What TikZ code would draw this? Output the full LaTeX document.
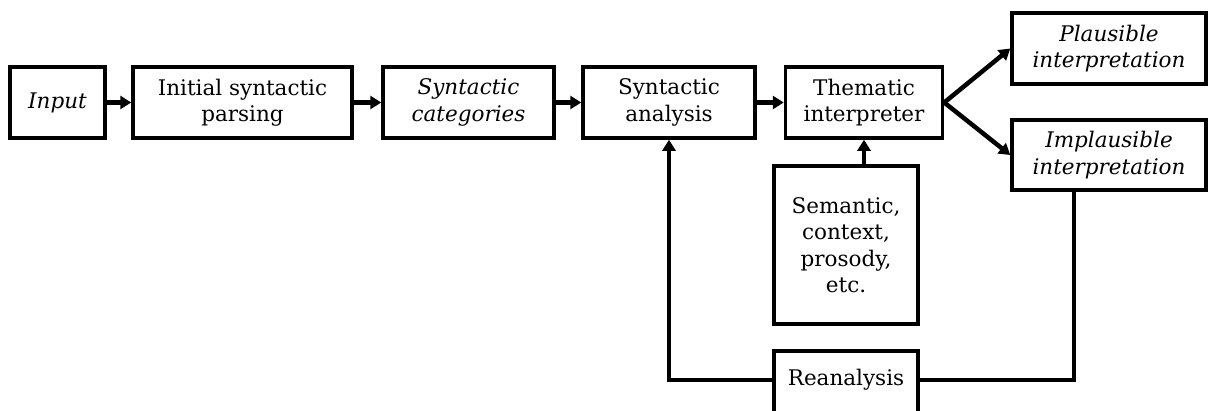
\documentclass[tikz,border=0pt]{standalone}
\usepackage{fontspec}
\setmainfont{DejaVu Serif}
\usetikzlibrary{arrows.meta}
\begin{document}
\begin{tikzpicture}[x=1pt,y=-1pt,
  txt/.style={font=\fontsize{21.5}{26.5}\selectfont},
  box/.style={draw,line width=3.5pt,align=center,inner sep=0pt,txt},
  conn/.style={line width=4.5pt,-{Triangle[length=11pt,width=13pt]}},
  plain/.style={line width=4.5pt}]
\useasboundingbox (0,0) rectangle (1208,410);
\node[box,minimum width=95pt,minimum height=71pt] (in) at (57.5,102.5) {\itshape Input};
\node[box,minimum width=219pt,minimum height=71pt] (isp) at (242.5,102.5) {Initial syntactic\\parsing};
\node[box,minimum width=171pt,minimum height=71pt] (sc) at (468.5,102.5) {\itshape Syntactic\\\itshape categories};
\node[box,minimum width=172pt,minimum height=71pt] (sa) at (669,102.5) {Syntactic\\analysis};
\node[box,minimum width=157pt,minimum height=71pt] (ti) at (864,102.5) {Thematic\\interpreter};
\node[box,minimum width=194pt,minimum height=71pt] (pi) at (1109,48.5) {\itshape Plausible\\\itshape interpretation};
\node[box,minimum width=194pt,minimum height=70pt] (ii) at (1109,155) {\itshape Implausible\\\itshape interpretation};
\node[box,minimum width=144pt,minimum height=158pt] (sem) at (846,245) {Semantic,\\context,\\prosody,\\etc.};
\draw[line width=3.5pt] (774,414) -- (774,351) -- (918,351) -- (918,414);
\node[inner sep=0pt,minimum width=144pt,minimum height=58pt,txt] (re) at (846,380) {Reanalysis};
\draw[conn] (in) -- (isp);
\draw[conn] (isp) -- (sc);
\draw[conn] (sc) -- (sa);
\draw[conn] (sa) -- (ti);
\draw[conn] (ti.east) -- (pi.west);
\draw[conn] (ti.east) -- (ii.west);
\draw[conn] (sem.north -| ti.south) -- (ti.south);
\coordinate (fl) at (669,380);
\coordinate (fr) at (1074,380);
\draw[conn] (re.west) -- (fl) -- (fl |- sa.south);
\draw[plain] (re.east) -- (fr) -- (fr |- ii.south);
\end{tikzpicture}
\end{document}
